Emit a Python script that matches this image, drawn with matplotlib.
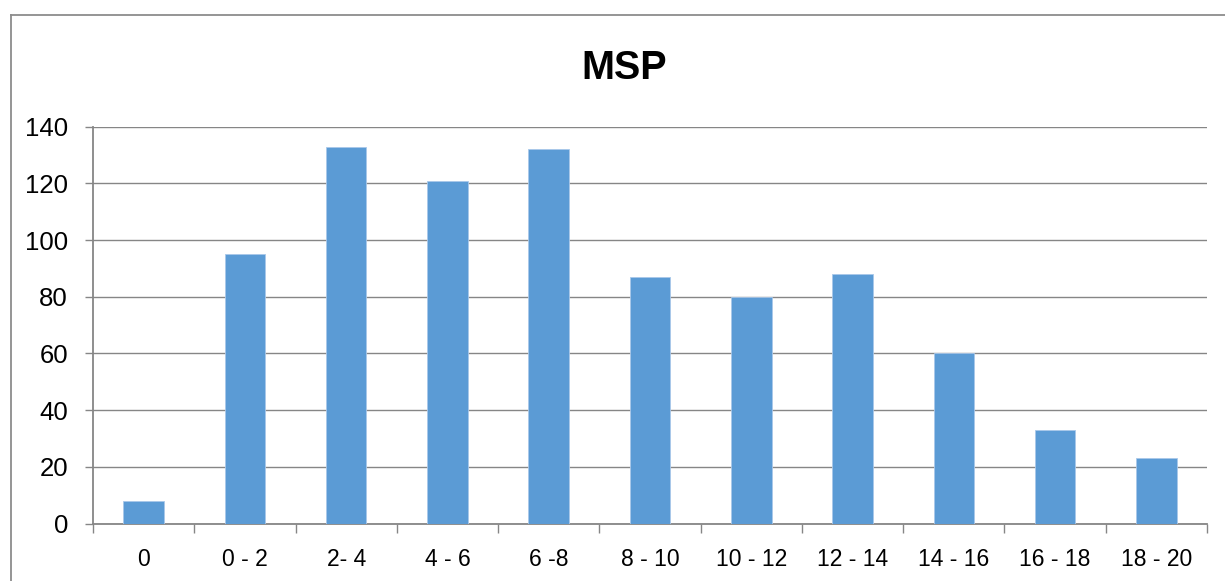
import matplotlib
matplotlib.use("Agg")
import matplotlib.pyplot as plt
from matplotlib.lines import Line2D
import numpy as np

# MSP counts per bin
bins = ["0", "0 - 2", "2- 4", "4 - 6", "6 -8", "8 - 10", "10 - 12",
        "12 - 14", "14 - 16", "16 - 18", "18 - 20"]
counts = [8, 95, 133, 121, 132, 87, 80, 88, 60, 33, 23]
yticks = [0, 20, 40, 60, 80, 100, 120, 140]

plt.rcParams["font.family"] = ["Liberation Sans", "DejaVu Sans"]
gray = "#868686"
barcol = "#5b9bd5"

fig = plt.figure(figsize=(12.25, 5.81), dpi=100)
ax = fig.add_axes([93 / 1225, 1 - 523.5 / 581, (1207 - 93) / 1225, (523.5 - 126.7) / 581])

x = np.arange(len(bins))
ax.bar(x, counts, width=0.4, color=barcol, edgecolor="#a9c8ea", linewidth=0.6, zorder=3)

ax.set_xlim(-0.5, len(bins) - 0.5)
ax.set_ylim(0, 140)
ax.set_yticks(yticks)
ax.set_yticklabels([str(v) for v in yticks], fontsize=18.5)
ax.yaxis.grid(True, color=gray, linewidth=1.0, zorder=0)

# category labels centred, tick marks on the bin boundaries
ax.set_xticks(x)
ax.set_xticklabels(bins, fontsize=16.5)
ax.tick_params(axis="x", length=0, pad=18)
ax.set_xticks(np.arange(len(bins) + 1) - 0.5, minor=True)
ax.tick_params(axis="x", which="minor", length=6.5, width=1.0, color=gray, direction="out")
ax.tick_params(axis="y", length=6, width=1.0, color=gray, pad=12)

for side in ["top", "right"]:
    ax.spines[side].set_visible(False)
for side in ["left", "bottom"]:
    ax.spines[side].set_color(gray)
    ax.spines[side].set_linewidth(1.3)

ax.set_title("MSP", fontsize=28.5, fontweight="bold", x=0.4767, y=1.0, pad=34)

# chart frame (right and bottom edges fall outside the image)
fx = 10.5 / 1225
fy = 1 - 14.5 / 581
fig.add_artist(Line2D([fx, fx], [0, fy], transform=fig.transFigure, color="#8c8c8c", lw=1.3))
fig.add_artist(Line2D([fx, 1], [fy, fy], transform=fig.transFigure, color="#8c8c8c", lw=1.3))

fig.savefig("out.png", dpi=100, facecolor="white")
